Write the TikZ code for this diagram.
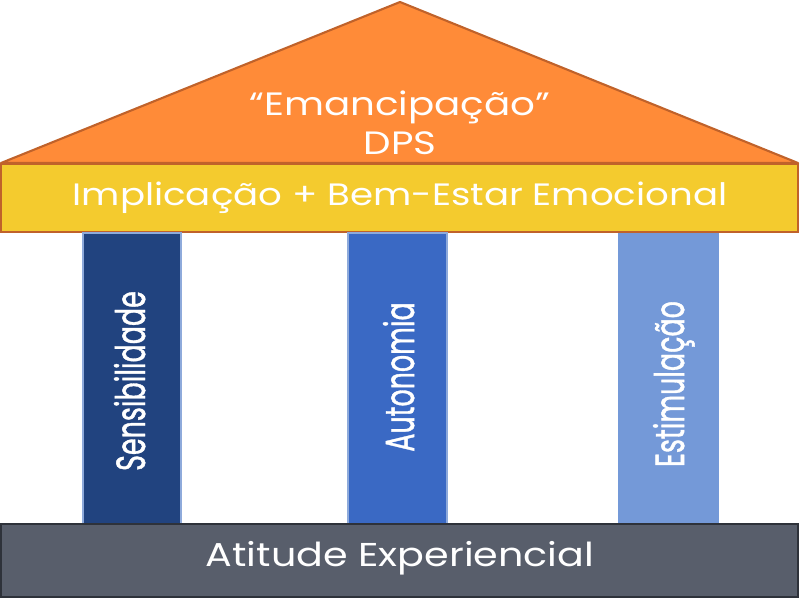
\documentclass[tikz,border=0pt]{standalone}
\usepackage{fontspec}
\setmainfont{Poppins}
\newfontfamily\pillarfont{Poppins}[FakeBold=1.2]
\definecolor{RoofOrange}{HTML}{FF8B38}
\definecolor{RoofEdge}{HTML}{C0622A}
\definecolor{BandYellow}{HTML}{F4CB2E}
\definecolor{PillarDark}{HTML}{21437F}
\definecolor{PillarMid}{HTML}{3A69C4}
\definecolor{PillarLight}{HTML}{7499D8}
\definecolor{PillarEdge}{HTML}{8EAADB}
\definecolor{BaseGray}{HTML}{585E6B}
\definecolor{BaseEdge}{HTML}{2E323A}
\newcommand{\widetext}[1]{\scalebox{1.2}[1]{#1}}
\newcommand{\pillartext}[1]{\scalebox{0.66}[1]{#1}}

\begin{document}
\begin{tikzpicture}[x=0.025cm,y=-0.025cm]
  \useasboundingbox (0,0) rectangle (800,600);
  % roof
  \draw[fill=RoofOrange,draw=RoofEdge,line width=1.5pt,line join=round] (1,163)--(400,2)--(798,163)--cycle;
  \node[font=\fontsize{23}{28}\selectfont,text=white,align=center] (roof) at (400,123)
    {\widetext{``Emancipação''}\\\widetext{DPS}};
  % band
  \draw[fill=BandYellow,draw=RoofEdge,line width=1.5pt] (1,164) rectangle (798,232);
  \node[font=\fontsize{22}{26}\selectfont,text=white] (band) at (400,198) {\widetext{Implicação + Bem-Estar Emocional}};
  % pillars
  \draw[fill=PillarDark,draw=PillarEdge,line width=1.5pt] (83,233) rectangle (181,524);
  \draw[fill=PillarMid,draw=PillarEdge,line width=1.5pt] (348,233) rectangle (447,524);
  \fill[PillarLight] (618,233) rectangle (719,524);
  \node[rotate=90,anchor=base,font=\pillarfont\fontsize{29}{32}\selectfont,text=white] (sens) at (145,381) {\pillartext{Sensibilidade}};
  \node[rotate=90,anchor=base,font=\pillarfont\fontsize{29}{32}\selectfont,text=white] (auto) at (414,377) {\pillartext{Autonomia}};
  \node[rotate=90,anchor=base,font=\pillarfont\fontsize{29}{32}\selectfont,text=white] (esti) at (684,384) {\pillartext{Estimulação}};
  % base
  \draw[fill=BaseGray,draw=BaseEdge,line width=1.5pt] (1,524) rectangle (798,597);
  \node[font=\fontsize{23.5}{28}\selectfont,text=white] (base) at (400,558) {\widetext{Atitude Experiencial}};
\end{tikzpicture}
\end{document}
